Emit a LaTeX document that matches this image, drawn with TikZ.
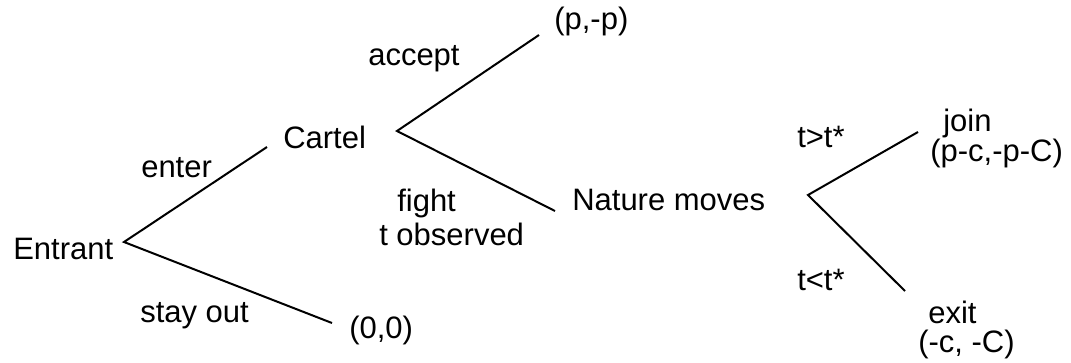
\documentclass[tikz,border=0pt]{standalone}
\usepackage{fontspec}
\setmainfont{Liberation Sans}
\usetikzlibrary{positioning,calc}

\begin{document}
\begin{tikzpicture}[x=0.75pt, y=-0.75pt,
		txt/.style={anchor=base west, inner sep=0pt, font=\fontsize{23.25}{28}\selectfont},
		branch/.style={line width=1.5pt}]
	\useasboundingbox (0,0) rectangle (1071,362);
	% decision points and branch ends
	\coordinate (entrant-pt) at (124,242);
	\coordinate (enter-end) at (267,147);
	\coordinate (out-end) at (332,323);
	\coordinate (cartel-pt) at (397,131);
	\coordinate (accept-end) at (539,35);
	\coordinate (fight-end) at (555,211);
	\coordinate (nature-pt) at (808,195);
	\coordinate (join-end) at (918,132);
	\coordinate (exit-end) at (905,291);
	% players and payoffs
	\node[txt] (entrant) at (13,259) {Entrant};
	\node[txt] (cartel) at (283,148) {Cartel};
	\node[txt] (nature) at (572,210) {Nature moves};
	\node[txt] (pay-out) at (349,338) {(0,0)};
	\node[txt] (pay-accept) at (554,29) {(p,-p)};
	\node[txt] (join) at (943,131) {join};
	\node[txt] (pay-join) at (930,161) {(p-c,-p-C)};
	\node[txt] (exit) at (928,323) {exit};
	\node[txt] (pay-exit) at (918,352) {(-c, -C)};
	% actions
	\node[txt] (enter) at (141,177) {enter};
	\node[txt] (stay) at (140,322) {stay out};
	\node[txt] (accept) at (368,65) {accept};
	\node[txt] (fight) at (397,211) {fight};
	\node[txt] (observed) at (379,245) {t observed};
	\node[txt] (high) at (797,147) {t>t*};
	\node[txt] (low) at (797,290) {t<t*};
	% branches
	\draw[branch] (enter-end) -- (entrant-pt) -- (out-end);
	\draw[branch] (accept-end) -- (cartel-pt) -- (fight-end);
	\draw[branch] (join-end) -- (nature-pt) -- (exit-end);
\end{tikzpicture}
\end{document}
